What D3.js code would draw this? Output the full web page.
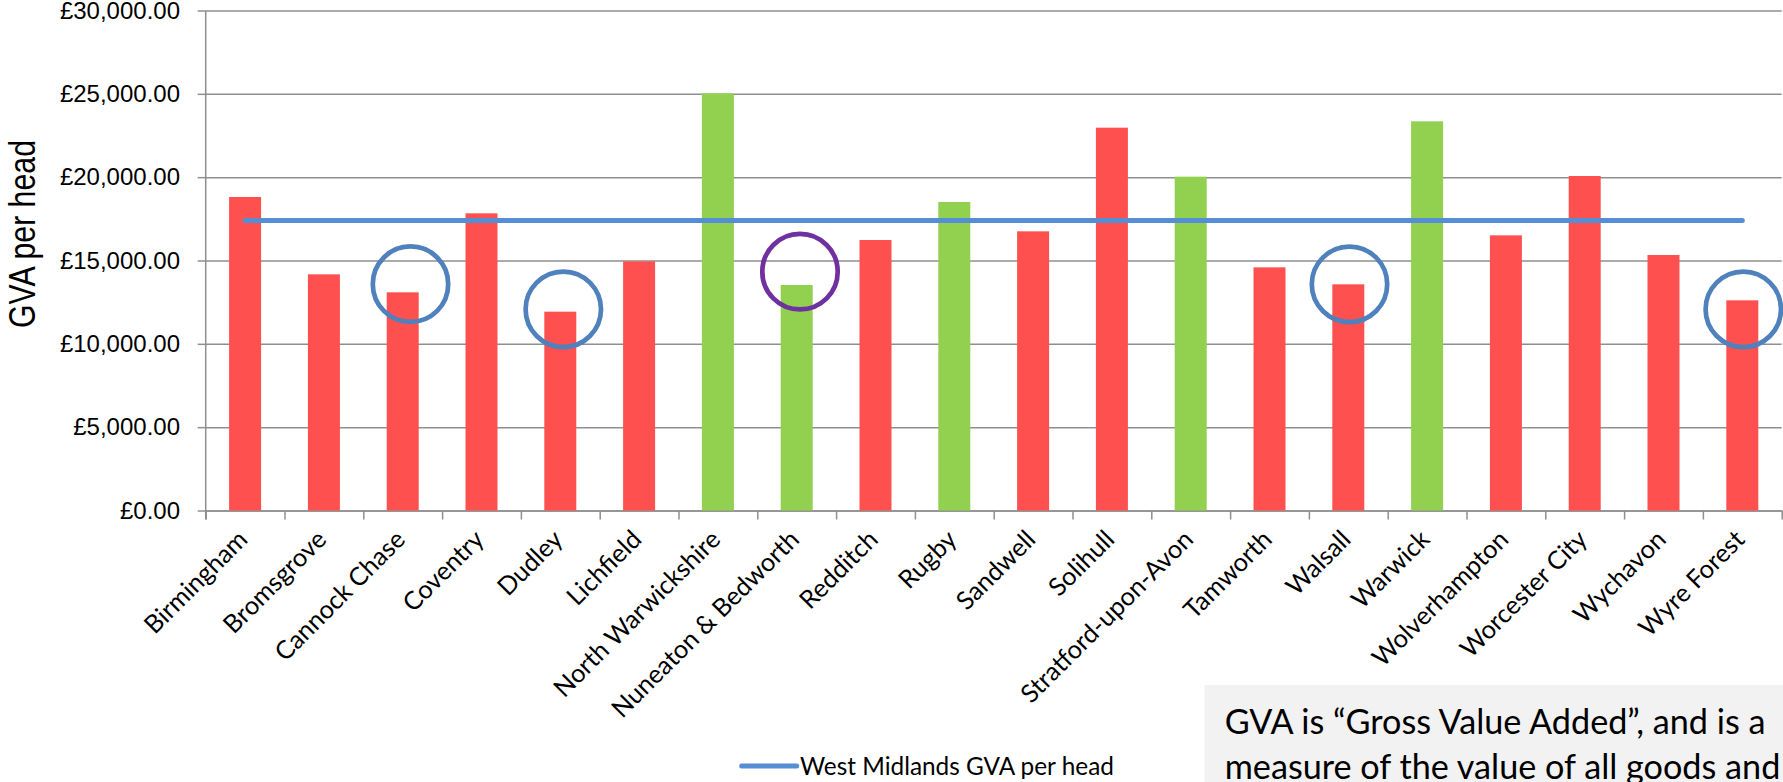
<!DOCTYPE html>
<html><head><meta charset="utf-8">
<script src="https://cdn.jsdelivr.net/npm/d3@7"></script>
<style>html,body{margin:0;padding:0;background:#fff;overflow:hidden}</style>
</head><body>
<svg id="c" width="1783" height="782"></svg>
<script>
// ---------- data ----------
const categories = ["Birmingham","Bromsgrove","Cannock Chase","Coventry","Dudley","Lichfield",
  "North Warwickshire","Nuneaton & Bedworth","Redditch","Rugby","Sandwell","Solihull",
  "Stratford-upon-Avon","Tamworth","Walsall","Warwick","Wolverhampton","Worcester City",
  "Wychavon","Wyre Forest"];
const gvaPerHead = [18810,14170,13090,17830,11930,14950,25030,13530,16230,18510,16750,22970,
  20030,14590,13570,23350,16510,20070,15330,12610];
const warwickshireDistricts = ["North Warwickshire","Nuneaton & Bedworth","Rugby","Stratford-upon-Avon","Warwick"];
const westMidlandsGVA = [17400,17400,17400,17400,17400,17400,17400,17400,17400,17400,
  17400,17400,17400,17400,17400,17400,17400,17400,17400,17400];
const yTicks = [0,5000,10000,15000,20000,25000,30000];
// circled annotations: category, centre value, kind
const circledCats = ["Cannock Chase","Dudley","Nuneaton & Bedworth","Walsall","Wyre Forest"];
const circledValues = [13580,12070,14330,13570,12070];
const circledKind = ["blue","blue","purple","blue","blue"];
const seriesName = "West Midlands GVA per head";
const yTitle = "GVA per head";
const noteLines = ["GVA is \u201cGross Value Added\u201d, and is a","measure of the value of all goods and"];

// ---------- layout ----------
const W = 1783, H = 782;
const x0 = 205.7, x1 = 1781.7, yBase = 510.5, yTopPx = 10.5;
const svg = d3.select("#c");

const x = d3.scaleBand().domain(categories).range([x0, x1]).paddingInner(0.594).paddingOuter(0.297);
const y = d3.scaleLinear().domain([0, 30000]).range([yBase, yTopPx]);
const bw = x.bandwidth();
const cx = c => x(c) + bw / 2;

const gridCol = "#8f8f8f";
const calibriLike = "Lato, 'Open Sans', sans-serif";

// gridlines
svg.append("g").attr("transform", `translate(${x0},0)`)
  .call(d3.axisLeft(y).tickValues(yTicks).tickSize(-(x1 - x0)).tickFormat(""))
  .call(g => g.select(".domain").remove())
  .call(g => g.selectAll("line").attr("stroke", gridCol).attr("stroke-width", 1.5));

// y axis with labels
svg.append("g").attr("transform", `translate(${x0},0)`)
  .call(d3.axisLeft(y).tickValues(yTicks).tickSize(8).tickPadding(17.7)
    .tickFormat(d => "\u00a3" + d3.format(",.2f")(d)))
  .call(g => g.select(".domain").remove())
  .call(g => g.selectAll("line").attr("stroke", gridCol).attr("stroke-width", 1.5))
  .call(g => g.selectAll("text").attr("font-family", "'Liberation Sans', Arial, sans-serif")
    .attr("font-size", 24).attr("fill", "#000"));

// y axis line
svg.append("line").attr("x1", x0).attr("x2", x0).attr("y1", yTopPx).attr("y2", yBase + 9)
  .attr("stroke", gridCol).attr("stroke-width", 1.5);

// x axis line + boundary ticks
const xb = d3.scaleLinear().domain([0, categories.length]).range([x0, x1]);
svg.append("g").attr("transform", `translate(0,${yBase})`)
  .call(d3.axisBottom(xb).tickValues(d3.range(categories.length + 1)).tickSize(9).tickFormat("").tickSizeOuter(0))
  .call(g => g.select(".domain").attr("stroke", gridCol).attr("stroke-width", 1.5))
  .call(g => g.selectAll("line").attr("stroke", gridCol).attr("stroke-width", 1.5));

// bars
svg.append("g").selectAll("rect").data(categories).join("rect")
  .attr("x", d => x(d)).attr("width", bw)
  .attr("y", (d, i) => y(gvaPerHead[i])).attr("height", (d, i) => yBase - y(gvaPerHead[i]))
  .attr("fill", d => warwickshireDistricts.includes(d) ? "#92D050" : "#FF5050");

// West Midlands line
svg.append("path").datum(westMidlandsGVA)
  .attr("d", d3.line().x((d, i) => cx(categories[i])).y(d => y(d)))
  .attr("fill", "none").attr("stroke", "#558ED5").attr("stroke-width", 5).attr("stroke-linecap", "round");

// circles
const circleDx = [7.8, 3, 3.3, 1.2, 1];
svg.append("g").selectAll("circle").data(circledCats).join("circle")
  .attr("cx", (d, i) => cx(d) + circleDx[i]).attr("cy", (d, i) => y(circledValues[i]))
  .attr("r", 37.7).attr("fill", "none").attr("stroke-width", 4.7)
  .attr("stroke", (d, i) => circledKind[i] === "purple" ? "#7030A0" : "#4F81BD");

// category labels
const labels = svg.append("g").selectAll("text").data(categories).join("text")
  .attr("transform", d => `translate(${cx(d) + 4},541) rotate(-45)`)
  .attr("text-anchor", "end").attr("font-family", calibriLike).attr("font-size", 100)
  .attr("fill", "#000").text(d => d);
{
  const ref = labels.filter(d => d === "North Warwickshire").node().getComputedTextLength();
  labels.attr("font-size", 100 * 223 / ref);
}

// y title (condensed to match the narrow face of the original)
const yt = svg.append("text").attr("text-anchor", "middle")
  .attr("font-family", "'Liberation Sans', Arial, sans-serif")
  .attr("font-size", 37).attr("fill", "#000").text(yTitle);
{
  const l = yt.node().getComputedTextLength();
  yt.attr("transform", `translate(35,234) rotate(-90) scale(${188 / l},1)`);
}

// legend
svg.append("line").attr("x1", 741.7).attr("x2", 796.7).attr("y1", 766).attr("y2", 766)
  .attr("stroke", "#558ED5").attr("stroke-width", 5).attr("stroke-linecap", "round");
const lt = svg.append("text").attr("x", 800).attr("y", 774.5).attr("font-family", calibriLike)
  .attr("font-size", 100).attr("fill", "#000").text(seriesName);
lt.attr("font-size", 100 * 314 / lt.node().getComputedTextLength());

// note box
svg.append("rect").attr("x", 1204.5).attr("y", 685).attr("width", W - 1204.5).attr("height", H - 685).attr("fill", "#F2F2F2");
const nt = svg.append("g").selectAll("text").data(noteLines).join("text")
  .attr("x", 1224.7).attr("y", (d, i) => 734 + i * 45).attr("font-family", calibriLike)
  .attr("font-size", 100).attr("fill", "#000").text(d => d);
{
  const l = nt.filter((d, i) => i === 0).node().getComputedTextLength();
  nt.attr("font-size", 100 * 541 / l);
}
</script>
</body></html>
